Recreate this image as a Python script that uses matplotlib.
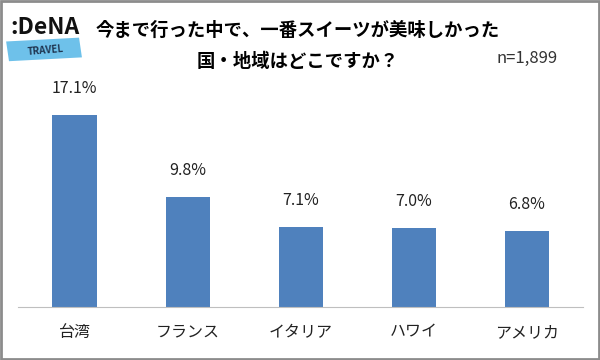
import matplotlib.pyplot as plt
from matplotlib.patches import Rectangle

plt.rcParams['font.family'] = ['Noto Sans CJK JP', 'DejaVu Sans']

categories = ["台湾", "フランス", "イタリア", "ハワイ", "アメリカ"]
values = [17.1, 9.8, 7.1, 7.0, 6.8]
title_lines = ["今まで行った中で、一番スイーツが美味しかった", "国・地域はどこですか？"]
sample_note = "n=1,899"

fig = plt.figure(figsize=(6, 3.6), dpi=100)
ax = fig.add_axes([0.03, 0.147, 0.942, 0.631])

x = range(len(categories))
ax.bar(x, values, width=0.39, color="#4F81BD", zorder=2)
for xi, v in zip(x, values):
    ax.annotate(f"{v:.1f}%", (xi, v), xytext=(0, 13), textcoords="offset points",
                ha="center", va="bottom", fontsize=11.5, color="#222222")

ax.set_xlim(-0.5, len(categories) - 0.5)
ax.set_ylim(0, 20.2)
ax.set_xticks(list(x))
ax.set_xticklabels(categories, fontsize=11.5, color="#222222")
ax.tick_params(axis="x", length=0, pad=12)
ax.set_yticks([])
for side in ["top", "right", "left"]:
    ax.spines[side].set_visible(False)
ax.spines["bottom"].set_color("#BFBFBF")

# title
fig.text(0.497, 0.915, title_lines[0], ha="center", va="center", fontsize=13.2, fontweight="bold")
fig.text(0.497, 0.828, title_lines[1], ha="center", va="center", fontsize=13.2, fontweight="bold")
fig.text(0.878, 0.838, sample_note, ha="center", va="center", fontsize=12, color="#333333")

# logo
fig.text(0.018, 0.925, ":DeNA", ha="left", va="center", fontsize=16.5, fontweight="bold", color="#111111")
logo_bg = Rectangle((0.015, 0.83), 0.122, 0.055, transform=fig.transFigure,
                    facecolor="#6EC1EA", edgecolor="none", angle=5)
fig.add_artist(logo_bg)
fig.text(0.076, 0.86, "TRAVEL", ha="center", va="center", fontsize=7, fontweight="bold",
         color="#1F3550", rotation=5)

# outer frame
frame = Rectangle((0.002, 0.003), 0.996, 0.994, transform=fig.transFigure,
                  facecolor="none", edgecolor="#8C8C8C", linewidth=2)
fig.add_artist(frame)

fig.savefig("out.png", dpi=100)
